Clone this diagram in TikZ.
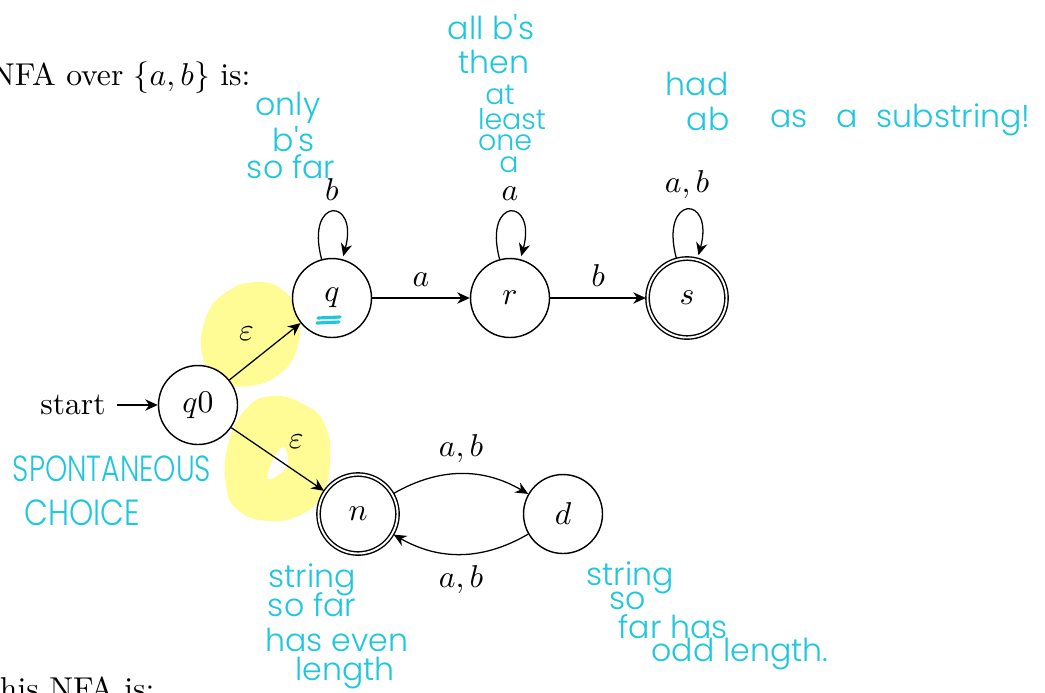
\documentclass[tikz,border=0pt]{standalone}
\usepackage{fontspec}
\usetikzlibrary{automata,arrows.meta}
\IfFontExistsTF{Poppins Light}
  {\newfontfamily\handfont{Poppins Light}}
  {\newfontfamily\handfont{Poppins}}
\definecolor{ink}{RGB}{30,198,222}
\definecolor{hilite}{RGB}{255,252,150}
\begin{document}
\begin{tikzpicture}[x=0.3165pt,y=0.3165pt,
  >={Stealth[length=4pt,width=3.6pt]},
  st/.style={state,minimum size=25pt,inner sep=0pt,fill=white,line width=0.45pt},
  hand/.style={text=ink,inner sep=0pt,font=\handfont\fontsize{10}{12}\selectfont},
  small hand/.style={hand,font=\handfont\fontsize{9}{11}\selectfont},
  caps/.style={hand,font=\handfont\fontsize{11.5}{14}\selectfont},
  hl/.style={fill=hilite,draw=none}]
\useasboundingbox (0,0) rectangle (1045,-692);

% highlighter strokes behind the epsilon moves
\fill[hl] plot[smooth cycle,tension=0.8] coordinates {(258,-282) (285,-292) (298,-315) (298,-345) (282,-372) (250,-386) (220,-380) (203,-358) (205,-320) (225,-293)};
\fill[hl] plot[smooth cycle,tension=0.8] coordinates {(272,-396) (305,-405) (325,-425) (330,-460) (322,-495) (300,-515) (268,-521) (238,-510) (226,-485) (228,-445) (245,-410)};
\fill[white] plot[smooth cycle,tension=0.7] coordinates {(283,-447) (288,-462) (282,-472) (268,-479) (272,-462)};

% surrounding text
\node[anchor=base east,inner sep=0pt] (head) at (251,-85) {NFA over $\{a,b\}$ is:};
\node[anchor=base east,inner sep=0pt] (foot) at (155,-699) {this NFA is:};

% states
\node[st] (q0) at (198,-405) {$q0$};
\node[st] (q) at (332,-298) {$q$};
\node[st] (r) at (510,-298) {$r$};
\node[st,accepting] (s) at (687,-298) {$s$};
\node[st,accepting] (n) at (358,-514) {$n$};
\node[st] (d) at (563,-514) {$d$};
\node (start) at (73,-405) {start};

% transitions
\draw[->] (start) -- (q0);
\path[->]
  (q0) edge node[auto] {$\varepsilon$} (q)
  (q0) edge node[auto] {$\varepsilon$} (n)
  (q) edge[loop above] node[above] {$b$} ()
  (q) edge node[above] {$a$} (r)
  (r) edge[loop above] node[above] {$a$} ()
  (r) edge node[above] {$b$} (s)
  (s) edge[loop above] node[above] {$a,b$} ()
  (n) edge[bend left] node[above] {$a,b$} (d)
  (d) edge[bend left] node[below] {$a,b$} (n);

% handwritten notes
\draw[ink,line width=1pt,line cap=round] (318,-318) -- (340,-317) (317,-323) -- (339,-322);

\node[hand] (o1) at (288,-108) {only};
\node[hand] (o2) at (294,-139) {b's};
\node[hand] (o3) at (291,-167) {so far};

\node[hand] (t1) at (491,-27) {all b's};
\node[hand] (t2) at (494,-62) {then};
\node[small hand] (t3) at (500,-95) {at};
\node[small hand] (t4) at (512,-119) {least};
\node[small hand] (t5) at (505,-143) {one};
\node[small hand] (t6) at (509,-165) {a};

\node[hand] (h1) at (697,-84) {had};
\node[hand] (h2) at (708,-119) {ab};
\node[hand,anchor=west] (h3) at (770,-120) {as\hspace{9pt}a\hspace{6pt}substring!};

\node[caps] (c1) at (112,-469) {\scalebox{0.78}[1]{SPONTANEOUS}};
\node[caps] (c2) at (82,-513) {\scalebox{0.85}[1]{CHOICE}};

\node[hand] (e1) at (312,-580) {string};
\node[hand] (e2) at (312,-605) {so far};
\node[hand] (e3) at (337,-640) {has even};
\node[hand] (e4) at (345,-673) {length};

\node[hand] (f1) at (630,-578) {string};
\node[hand] (f2) at (628,-601) {so};
\node[hand] (f3) at (673,-627) {far has};
\node[hand] (f4) at (740,-654) {odd length.};
\end{tikzpicture}
\end{document}
